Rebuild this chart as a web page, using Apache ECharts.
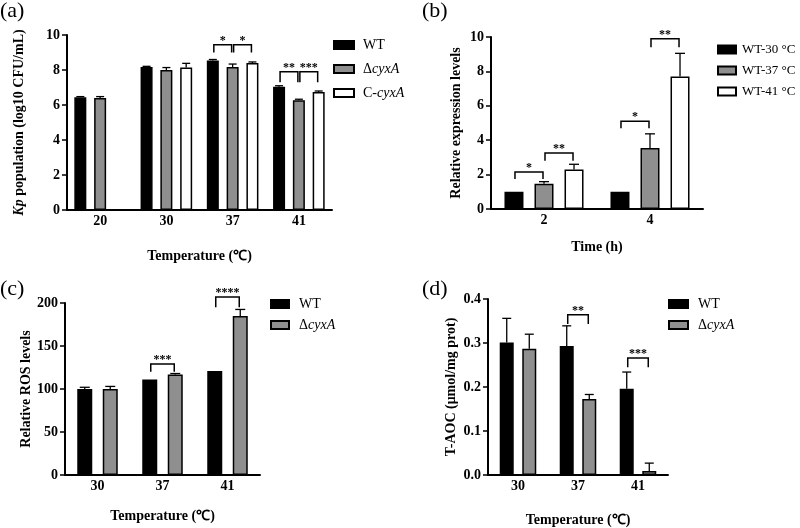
<!DOCTYPE html>
<html>
<head>
<meta charset="utf-8">
<script src="https://cdn.jsdelivr.net/npm/echarts@6/dist/echarts.min.js"></script>
<style>
html, body { margin: 0; background: #fff; }
#chart { width: 800px; height: 528px; }
</style>
</head>
<body>
<div id="chart"></div>
<script>
// (a) Kp population by temperature
var tempsA = ['20', '30', '37', '41'];
var wtA = [6.45, 8.17, 8.55, 7.05];
var wtErrA = [0.03, 0.04, 0.05, 0.05];
var delA = [6.40, 8.00, 8.17, 6.27];
var delErrA = [0.08, 0.14, 0.17, 0.06];
var compA = [null, 8.15, 8.40, 6.75];
var compErrA = [null, 0.23, 0.06, 0.05];
// [category, from bar, to bar, leg bottom, bracket top, stars]
var sigA = [[2, 0, 1, 9.0, 9.45, '*'], [2, 1, 2, 9.0, 9.45, '*'],
            [3, 0, 1, 7.3, 7.9, '**'], [3, 1, 2, 7.3, 7.9, '***']];

// (b) relative expression by time
var timesB = ['2', '4'];
var wt30B = [1.0, 1.0];
var wt30ErrB = [0, 0];
var wt37B = [1.47, 3.55];
var wt37ErrB = [0.12, 0.82];
var wt41B = [2.3, 7.7];
var wt41ErrB = [0.3, 1.35];
var sigB = [[0, 0, 1, 1.75, 2.15, '*'], [0, 1, 2, 2.8, 3.25, '**'],
            [1, 0, 1, 4.7, 5.1, '*'], [1, 1, 2, 9.4, 9.9, '**']];

// (c) relative ROS levels
var tempsC = ['30', '37', '41'];
var wtC = [100, 111, 121];
var wtErrC = [2, 0, 0];
var delC = [100, 117, 185];
var delErrC = [3, 1, 7.5];
var sigC = [[1, 0, 1, 120, 129, '***'], [2, 0, 1, 195, 207, '****']];

// (d) T-AOC
var tempsD = ['30', '37', '41'];
var wtD = [0.301, 0.293, 0.196];
var wtErrD = [0.055, 0.046, 0.038];
var delD = [0.287, 0.173, 0.009];
var delErrD = [0.033, 0.010, 0.018];
var sigD = [[1, 0, 1, 0.343, 0.364, '**'], [2, 0, 1, 0.245, 0.266, '***']];

var FONT = '"Liberation Serif", "Times New Roman", serif';
var BLACK = '#000000';
var GREY = '#8f8f8f';
var WHITE = '#ffffff';

var chart = echarts.init(document.getElementById('chart'));

var option = {
    animation: false,
    backgroundColor: '#fff',
    title: [],
    legend: [],
    grid: [],
    xAxis: [],
    yAxis: [],
    series: []
};

function legendName(name) {
    if (name === 'ΔcyxA') return 'Δ{i|cyxA}';
    if (name === 'C-cyxA') return 'C-{i|cyxA}';
    return name;
}

function errorRender(offset, cap) {
    return function (params, api) {
        var v = api.value(1);
        var e = api.value(2);
        var p0 = api.coord([api.value(0), v]);
        var p1 = api.coord([api.value(0), v + e]);
        var x = p0[0] + offset;
        var st = {stroke: BLACK, lineWidth: 1.3};
        return {
            type: 'group',
            children: [
                {type: 'line', shape: {x1: x, y1: p0[1], x2: x, y2: p1[1]}, style: st},
                {type: 'line', shape: {x1: x - cap / 2, y1: p1[1], x2: x + cap / 2, y2: p1[1]}, style: st}
            ]
        };
    };
}

function sigRender(sig, pitch, n) {
    return function (params, api) {
        var s = sig[params.dataIndex];
        var top = api.coord([s[0], s[4]]);
        var low = api.coord([s[0], s[3]])[1];
        var xa = top[0] + (s[1] - (n - 1) / 2) * pitch + 1;
        var xb = top[0] + (s[2] - (n - 1) / 2) * pitch - 1;
        var st = {stroke: BLACK, lineWidth: 1.5, fill: null};
        return {
            type: 'group',
            children: [
                {type: 'polyline', shape: {points: [[xa, low], [xa, top[1]], [xb, top[1]], [xb, low]]}, style: st},
                {type: 'text', x: (xa + xb) / 2, y: top[1] - 4, style: {
                    text: s[5], fill: BLACK, align: 'center', verticalAlign: 'middle',
                    font: 'bold 12px ' + FONT
                }}
            ]
        };
    };
}

function addPanel(p, k) {
    option.title.push({
        text: p.tag, left: p.tagPos[0], top: p.tagPos[1], padding: 0,
        textStyle: {fontFamily: FONT, fontSize: 22, fontWeight: 'normal', color: BLACK}
    });
    option.grid.push(p.grid);
    option.xAxis.push({
        type: 'category', gridIndex: k, data: p.cats,
        name: p.xName, nameLocation: 'middle', nameGap: p.xNameGap,
        nameTextStyle: {fontFamily: FONT, fontSize: 14, fontWeight: 'bold', color: BLACK},
        axisLine: {lineStyle: {color: BLACK, width: 2}},
        axisTick: {alignWithLabel: true, length: 5, lineStyle: {color: BLACK, width: 1.5}},
        axisLabel: {fontFamily: FONT, fontSize: 14, fontWeight: 'bold', color: BLACK, margin: 4}
    });
    option.yAxis.push({
        type: 'value', gridIndex: k, min: p.yMin, max: p.yMax, interval: p.yStep,
        name: p.yName, nameLocation: 'middle', nameGap: p.yNameGap,
        nameTextStyle: {
            fontFamily: FONT, fontSize: 14, fontWeight: 'bold', color: BLACK,
            rich: {i: {fontFamily: FONT, fontSize: 14, fontWeight: 'bold', fontStyle: 'italic', color: BLACK}}
        },
        axisLine: {show: true, lineStyle: {color: BLACK, width: 2}},
        axisTick: {show: true, length: 5, lineStyle: {color: BLACK, width: 1.5}},
        splitLine: {show: false},
        axisLabel: {fontFamily: FONT, fontSize: 14, fontWeight: 'bold', color: BLACK, margin: 7,
            formatter: p.yFmt}
    });

    var n = p.bars.length;
    var pitch = p.barWidth * (1 + p.barGap / 100);
    p.bars.forEach(function (b, i) {
        option.series.push({
            type: 'bar', name: b.name, xAxisIndex: k, yAxisIndex: k,
            data: b.values.map(function (v) { return v === null ? '-' : v; }),
            barWidth: p.barWidth, barGap: p.barGap + '%',
            itemStyle: {color: b.color, borderColor: BLACK, borderWidth: 1.5},
            z: 3
        });
        var errData = [];
        b.values.forEach(function (v, j) {
            if (v !== null && b.err[j]) errData.push([j, v, b.err[j]]);
        });
        option.series.push({
            type: 'custom', xAxisIndex: k, yAxisIndex: k, z: 2,
            renderItem: errorRender((i - (n - 1) / 2) * pitch, p.cap),
            data: errData
        });
    });
    option.series.push({
        type: 'custom', xAxisIndex: k, yAxisIndex: k, z: 4,
        renderItem: sigRender(p.sig, pitch, n),
        data: p.sig.map(function (s) { return [s[0], s[4]]; })
    });

    option.legend.push({
        orient: 'vertical', left: p.legend.left, top: p.legend.top, padding: 0,
        itemGap: p.legend.gap, itemWidth: p.legend.w, itemHeight: 8,
        icon: 'rect', selectedMode: false,
        data: p.bars.map(function (b) { return b.name; }),
        formatter: legendName,
        textStyle: {
            fontFamily: FONT, fontSize: p.legend.size, color: BLACK, padding: [0, 0, 0, p.legend.pad],
            rich: {i: {fontFamily: FONT, fontSize: p.legend.size, fontStyle: 'italic', color: BLACK}}
        }
    });
}

addPanel({
    tag: '(a)', tagPos: [0, 0],
    grid: {left: 67, top: 35, width: 265, height: 175},
    cats: tempsA, xName: 'Temperature (℃)', xNameGap: 39,
    yName: '{i|Kp} population (log10 CFU/mL)', yNameGap: 41,
    yMin: 0, yMax: 10, yStep: 2,
    barWidth: 12, barGap: 65, cap: 8,
    bars: [
        {name: 'WT', values: wtA, err: wtErrA, color: BLACK},
        {name: 'ΔcyxA', values: delA, err: delErrA, color: GREY},
        {name: 'C-cyxA', values: compA, err: compErrA, color: WHITE}
    ],
    sig: sigA,
    legend: {left: 333, top: 38, gap: 10, w: 20, pad: 4, size: 14}
}, 0);

addPanel({
    tag: '(b)', tagPos: [422, 0],
    grid: {left: 491, top: 37, width: 212, height: 172},
    cats: timesB, xName: 'Time (h)', xNameGap: 31,
    yName: 'Relative expression levels', yNameGap: 28,
    yMin: 0, yMax: 10, yStep: 2,
    barWidth: 19, barGap: 58, cap: 10,
    bars: [
        {name: 'WT-30 °C', values: wt30B, err: wt30ErrB, color: BLACK},
        {name: 'WT-37 °C', values: wt37B, err: wt37ErrB, color: GREY},
        {name: 'WT-41 °C', values: wt41B, err: wt41ErrB, color: WHITE}
    ],
    sig: sigB,
    legend: {left: 717, top: 43, gap: 8, w: 18, pad: 1, size: 13}
}, 1);

addPanel({
    tag: '(c)', tagPos: [0, 278],
    grid: {left: 65, top: 303, width: 195, height: 172},
    cats: tempsC, xName: 'Temperature (℃)', xNameGap: 34,
    yName: 'Relative ROS levels', yNameGap: 30,
    yMin: 0, yMax: 200, yStep: 50,
    barWidth: 15, barGap: 70, cap: 10,
    bars: [
        {name: 'WT', values: wtC, err: wtErrC, color: BLACK},
        {name: 'ΔcyxA', values: delC, err: delErrC, color: GREY}
    ],
    sig: sigC,
    legend: {left: 270, top: 297, gap: 7, w: 18, pad: 5, size: 14}
}, 2);

addPanel({
    tag: '(d)', tagPos: [422, 278],
    grid: {left: 488, top: 299, width: 180, height: 176},
    cats: tempsD, xName: 'Temperature (℃)', xNameGap: 38,
    yName: 'T-AOC (μmol/mg prot)', yNameGap: 30,
    yMin: 0, yMax: 0.4, yStep: 0.1,
    yFmt: function (v) { return v.toFixed(1); },
    barWidth: 14, barGap: 61, cap: 9,
    bars: [
        {name: 'WT', values: wtD, err: wtErrD, color: BLACK},
        {name: 'ΔcyxA', values: delD, err: delErrD, color: GREY}
    ],
    sig: sigD,
    legend: {left: 668, top: 297, gap: 7, w: 19, pad: 5, size: 14}
}, 3);

chart.setOption(option);
</script>
</body>
</html>
